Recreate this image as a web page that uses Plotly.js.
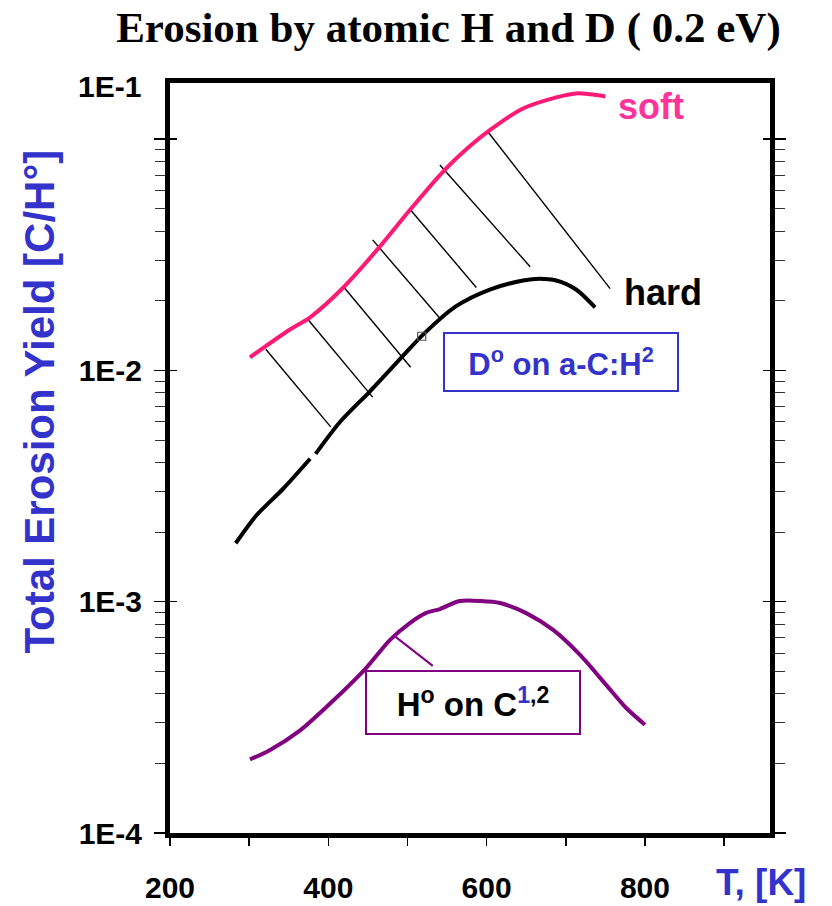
<!DOCTYPE html>
<html><head><meta charset="utf-8">
<script src="https://cdn.plot.ly/plotly-3.0.1.min.js"></script>
<style>html,body{margin:0;padding:0;background:#fff}</style>
</head><body><div id="chart" style="width:832px;height:906px"></div>
<script>
// soft a-C:H (D on a-C:H)
const softT = [301, 321, 352, 377, 419, 465, 503, 541, 566, 604, 646, 688, 713, 731, 750];
const softY = [0.01140, 0.01274, 0.01507, 0.01698, 0.02285, 0.0343, 0.0494, 0.0700, 0.0853, 0.1094, 0.1358, 0.1517, 0.1578, 0.1563, 0.1531];
// hard a-C:H (gap in drawn line near 380 K)
const hardT = [283, 309, 343, 377, null, 384, 415, 453, 494, 520, 561, 604, 646, 667, 688, 713, 737];
const hardY = [0.00179, 0.00236, 0.00308, 0.00415, null, 0.00436, 0.00600, 0.00815, 0.01153, 0.01432, 0.01893, 0.02239, 0.02449, 0.02494, 0.02449, 0.02239, 0.01875];
// H on C
const hOnCT = [301, 326, 364, 406, 448, 478, 503, 523, 541, 566, 592, 617, 650, 684, 718, 751, 776, 800];
const hOnCY = [0.000208, 0.000228, 0.000277, 0.000373, 0.000518, 0.000684, 0.000809, 0.000893, 0.000930, 0.001007, 0.001007, 0.000987, 0.000893, 0.000755, 0.000589, 0.000437, 0.000348, 0.000294];
// hatch lines between soft and hard
const hatchT0 = [321, 374, 420, 456, 504, 541, 602];
const hatchY0 = [0.01236, 0.01664, 0.02285, 0.0367, 0.0494, 0.0773, 0.1072];
const hatchT1 = [403, 456, 504, 542, 587, 655, 756];
const hatchY1 = [0.00570, 0.00767, 0.01032, 0.01664, 0.02285, 0.0281, 0.0226];
// leader line to H on C label
const leaderT = [485, 532];
const leaderY = [0.000705, 0.000528];
// small square marker
const markerT = [518];
const markerY = [0.01406];
// ticks
const xTickVals = [200, 300, 400, 500, 600, 700, 800, 900];
const xTickText = ['200', '', '400', '', '600', '', '800', ''];
const yMajorVals = [1e-4, 1e-3, 1e-2, 1e-1];
const yMajorText = ['1E-4', '1E-3', '1E-2', ''];
const minorMult = [2, 3, 4, 5, 6, 7, 8, 9];
const decades = [1e-4, 1e-3, 1e-2];

const yMinorVals = [];
decades.forEach(d => minorMult.forEach(m => yMinorVals.push(d * m)));

const hx = [], hy = [];
for (let i = 0; i < hatchT0.length; i++) {
  hx.push(hatchT0[i], hatchT1[i], null);
  hy.push(hatchY0[i], hatchY1[i], null);
}

const yRange = [-4, -0.757];
const sans = 'Liberation Sans, Arial, sans-serif';

const traces = [
  {x: hx, y: hy, mode: 'lines', line: {color: '#000', width: 1.4}, hoverinfo: 'skip'},
  {x: softT, y: softY, mode: 'lines', line: {color: '#ff1a75', width: 4, shape: 'spline', smoothing: 0.8}},
  {x: hardT, y: hardY, mode: 'lines', connectgaps: false, line: {color: '#000', width: 4, shape: 'spline', smoothing: 0.8}},
  {x: hOnCT, y: hOnCY, mode: 'lines', line: {color: '#800080', width: 4, shape: 'spline', smoothing: 0.8}},
  {x: leaderT, y: leaderY, mode: 'lines', line: {color: '#800080', width: 2}, yaxis: 'y2'},
  {x: markerT, y: markerY, mode: 'markers', marker: {symbol: 'square-open', size: 8, color: '#555', line: {width: 1.2, color: '#444'}}, yaxis: 'y2'}
];

const layout = {
  width: 832, height: 906,
  margin: {l: 170, r: 62, t: 83, b: 73},
  paper_bgcolor: '#fff', plot_bgcolor: '#fff',
  showlegend: false,
  title: {
    text: 'Erosion by atomic H and D ( 0.2 eV)',
    font: {family: 'Liberation Serif, Times New Roman, serif', size: 43, color: '#000', weight: 'bold'},
    x: 0.539, xref: 'container', xanchor: 'center',
    y: 0.970, yref: 'container', yanchor: 'middle'
  },
  xaxis: {
    range: [200, 958], showline: true, linewidth: 5, linecolor: '#000', mirror: true,
    ticks: 'outside', ticklen: 8, tickwidth: 1.5, tickcolor: '#000',
    tickmode: 'array', tickvals: xTickVals, ticktext: xTickText,
    tickfont: {family: sans, size: 30, color: '#000', weight: 'bold'},
    ticklabelstandoff: 16, showgrid: false, zeroline: false
  },
  yaxis: {
    type: 'log', range: yRange, showline: true, linewidth: 5, linecolor: '#000', mirror: 'allticks',
    ticks: 'outside', ticklen: 11, tickwidth: 1.5, tickcolor: '#000',
    tickmode: 'array', tickvals: yMajorVals, ticktext: yMajorText,
    tickfont: {family: sans, size: 30, color: '#000', weight: 'bold'},
    ticklabelstandoff: 6,
    minor: {tickmode: 'array', tickvals: yMinorVals, ticks: 'outside', ticklen: 10, tickwidth: 1, tickcolor: '#333', showgrid: false},
    showgrid: false, zeroline: false
  },
  yaxis2: {
    type: 'log', range: yRange, overlaying: 'y', side: 'left',
    tickmode: 'array', tickvals: yMajorVals, ticks: 'inside', ticklen: 7, tickwidth: 1.5, tickcolor: '#000',
    showticklabels: false, showline: false, showgrid: false, zeroline: false, mirror: 'ticks'
  },
  annotations: [
    {text: '1E-1', xref: 'paper', yref: 'paper', x: -0.045, y: 0.996, xanchor: 'right', yanchor: 'middle', showarrow: false,
     font: {family: sans, size: 30, color: '#000', weight: 'bold'}},
    {text: 'Total Erosion Yield [C/H°]', xref: 'paper', yref: 'paper', x: -0.217, y: 0.575, xanchor: 'center', yanchor: 'middle',
     textangle: -90, showarrow: false, font: {family: sans, size: 42, color: '#3333cc', weight: 'bold'}},
    {text: 'T, [K]', xref: 'paper', yref: 'paper', x: 0.985, y: -0.066, xanchor: 'center', yanchor: 'middle', showarrow: false,
     font: {family: sans, size: 37, color: '#3333cc', weight: 'bold'}},
    {text: 'soft', xref: 'paper', yref: 'paper', x: 0.802, y: 0.969, xanchor: 'center', yanchor: 'middle', showarrow: false,
     font: {family: sans, size: 36, color: '#ff3399', weight: 'bold'}},
    {text: 'hard', xref: 'paper', yref: 'paper', x: 0.822, y: 0.721, xanchor: 'center', yanchor: 'middle', showarrow: false,
     font: {family: sans, size: 36, color: '#000', weight: 'bold'}},
    {text: 'D<sup>o</sup> on a-C:H<sup>2</sup>', xref: 'paper', yref: 'paper', x: 0.652, y: 0.628, xanchor: 'center', yanchor: 'middle', showarrow: false,
     width: 232, height: 56, borderpad: 0, bordercolor: '#3333cc', borderwidth: 2, bgcolor: '#fff',
     font: {family: sans, size: 31, color: '#3333cc', weight: 'bold'}},
    {text: 'H<sup>o</sup> on C<sup><span style="color:#3333cc">1</span>,2</sup>', xref: 'paper', yref: 'paper', x: 0.505, y: 0.174, xanchor: 'center', yanchor: 'middle', showarrow: false,
     width: 212, height: 61, borderpad: 0, bordercolor: '#800080', borderwidth: 2, bgcolor: '#fff',
     font: {family: sans, size: 33, color: '#000', weight: 'bold'}}
  ]
};

Plotly.newPlot('chart', traces, layout, {displayModeBar: false, staticPlot: true});
</script>
</body></html>
